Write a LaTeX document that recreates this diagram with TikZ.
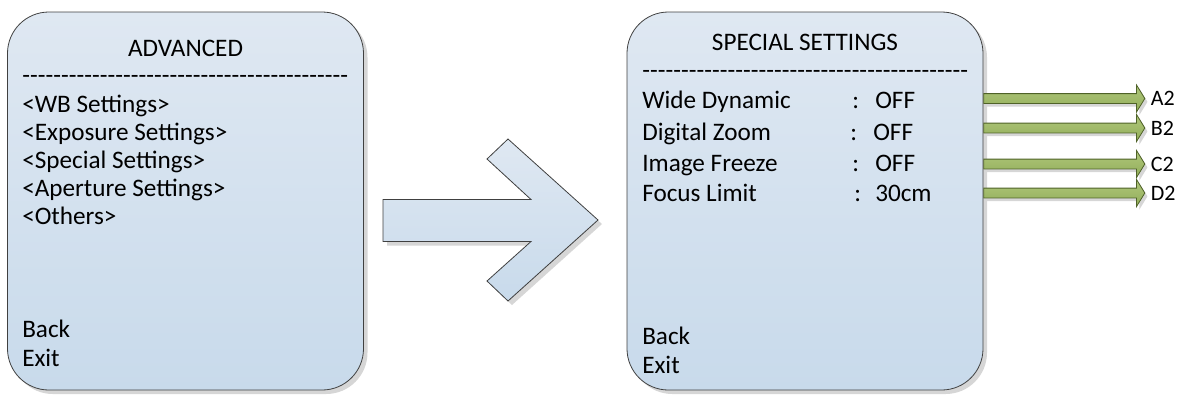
\documentclass[tikz,border=0pt]{standalone}
\usepackage{fontspec}
\setmainfont{Carlito}
\usetikzlibrary{positioning,shapes.arrows,shadows}
\definecolor{paneltop}{HTML}{DFE8F2}
\definecolor{panelbot}{HTML}{C8DAEB}
\definecolor{paneledge}{HTML}{404040}
\definecolor{oliveedge}{HTML}{4F6228}
\definecolor{olivetop}{HTML}{AEC67A}
\definecolor{olivebot}{HTML}{93AE5A}
\definecolor{shadowgray}{HTML}{D6D6D6}
\newcommand{\menufont}{\fontsize{18.9}{22}\selectfont}
\newcommand{\dashrow}{\hbox to 244.5pt{\xleaders\hbox{-}\hfill}}

\begin{document}
\begin{tikzpicture}[x=0.75pt, y=-0.75pt,
    panel/.style={draw=paneledge, line width=0.6pt, rounded corners=31pt,
                  top color=paneltop, bottom color=panelbot,
                  minimum width=267pt, minimum height=283.5pt,
                  drop shadow={shadow xshift=3pt, shadow yshift=-3pt,
                               fill=shadowgray, opacity=1}},
    item/.style={anchor=base west, inner sep=0pt, font=\menufont},
    title/.style={anchor=base, inner sep=0pt, font=\menufont},
    bigarr/.style={draw=paneledge, line width=0.6pt, line join=miter,
                   top color=paneltop, bottom color=panelbot,
                   drop shadow={shadow xshift=3pt, shadow yshift=-3pt,
                                fill=shadowgray, opacity=1}},
    subarr/.style={single arrow, draw=oliveedge, line width=0.6pt,
                   top color=olivetop, bottom color=olivebot,
                   minimum height=120.75pt, text height=3.4pt, text depth=3.35pt,
                   single arrow head extend=6.4pt, single arrow tip angle=117,
                   inner sep=0pt, anchor=west,
                   drop shadow={shadow xshift=2pt, shadow yshift=-2.5pt,
                                fill=shadowgray, opacity=1}},
    tag/.style={inner sep=0pt, font=\fontsize{16.5}{19}\selectfont, right=4pt of #1}
  ]
  \useasboundingbox (0,0) rectangle (1179,394);

  % left menu
  \node[panel] (advbox) at (185.5,201) {};
  \node[title] (advtitle) at (185.5,56) {ADVANCED};
  \node[item] (advdash) at (22,83) {\dashrow};
  \node[item] (wb) at (22,112.5) {<WB Settings>};
  \node[item] (expo) at (22,140.5) {<Exposure Settings>};
  \node[item] (spec) at (22,168.5) {<Special Settings>};
  \node[item] (aper) at (22,196.5) {<Aperture Settings>};
  \node[item] (oth) at (22,224.5) {<Others>};
  \node[item] (advback) at (22,337.5) {Back};
  \node[item] (advexit) at (22,366.5) {Exit};

  % big arrow
  \draw[bigarr] (383,199.5) -- (531,199.5) -- (487,159) -- (508,139) -- (598,220)
    -- (508,301) -- (487,281) -- (531,241.5) -- (383,241.5) -- cycle;

  % right menu
  \node[panel] (spcbox) at (805,201) {};
  \node[title] (spctitle) at (805,50) {SPECIAL SETTINGS};
  \node[item] (spcdash) at (642,78) {\dashrow};
  \node[item] (wide) at (642,108) {Wide Dynamic};
  \node[item] at (852,108) {:};
  \node[item] (wideval) at (875,108) {OFF};
  \node[item] (zoom) at (642,140) {Digital Zoom};
  \node[item] at (850,140) {:};
  \node[item] (zoomval) at (873,140) {OFF};
  \node[item] (frz) at (642,171.5) {Image Freeze};
  \node[item] at (852,171.5) {:};
  \node[item] (frzval) at (875,171.5) {OFF};
  \node[item] (foc) at (642,201.5) {Focus Limit};
  \node[item] at (854,201.5) {:};
  \node[item] (focval) at (875,201.5) {30cm};
  \node[item] (spcback) at (642,344) {Back};
  \node[item] (spcexit) at (642,373) {Exit};

  % sub menus
  \node[subarr] (arrA) at (spcbox.east |- 0,98.5) {};
  \node[subarr] (arrB) at (spcbox.east |- 0,128) {};
  \node[subarr] (arrC) at (spcbox.east |- 0,164) {};
  \node[subarr] (arrD) at (spcbox.east |- 0,193) {};
  \node[tag=arrA] (tagA) {A2};
  \node[tag=arrB] (tagB) {B2};
  \node[tag=arrC] (tagC) {C2};
  \node[tag=arrD] (tagD) {D2};
\end{tikzpicture}
\end{document}
